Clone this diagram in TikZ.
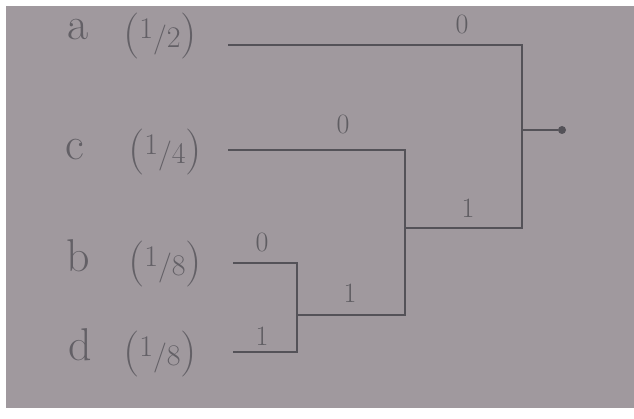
\documentclass[tikz,border=0pt]{standalone}
\usepackage{tikz}
\usetikzlibrary{positioning}
\definecolor{paper}{RGB}{160,153,158}
\definecolor{pencil}{RGB}{84,82,88}
\tikzset{
  branch/.style={
    line width=2.4pt,
    color=pencil
  },
  leaf name/.style={
    font=\fontsize{46}{50}\selectfont,
    color=pencil!80!paper,
    inner sep=0pt
  },
  bit label/.style={
    font=\fontsize{28}{30}\selectfont,
    color=pencil!85!paper,
    inner sep=0pt
  },
  root dot/.style={
    circle,
    fill=pencil,
    inner sep=0pt,
    minimum size=8pt
  }
}
\newcommand{\wt}[2]{({\fontsize{30}{32}\selectfont\raisebox{9pt}{#1}/#2})}

\begin{document}
\begin{tikzpicture}[x=1pt, y=-1pt]

  %% ---- paper ----
  \fill[white] (0,0) rectangle (634,419);
  \fill[paper] (6,6) rectangle (634,408);
  \useasboundingbox (0,0) rectangle (634,419);

  %% ---- leaves ----
  \node[leaf name] (na) at (78,30)  {a};
  \node[leaf name] (wa) at (160,36) {\wt{1}{2}};
  \node[leaf name] (nc) at (75,150) {c};
  \node[leaf name] (wc) at (165,152) {\wt{1}{4}};
  \node[leaf name] (nb) at (78,256) {b};
  \node[leaf name] (wb) at (165,264) {\wt{1}{8}};
  \node[leaf name] (nd) at (80,345) {d};
  \node[leaf name] (wd) at (160,354) {\wt{1}{8}};

  %% ---- branch ends ----
  \coordinate (a)  at (228,45);
  \coordinate (c)  at (228,150);
  \coordinate (b)  at (233,263);
  \coordinate (d)  at (233,352);
  \coordinate (bd) at (297,315);
  \coordinate (cbd) at (405,228);
  \coordinate (root) at (522,130);
  \node[root dot] (top) at (562,130) {};

  %% ---- merges ----
  % b + d
  \draw[branch] (b) -| (bd) |- (d);
  % c + (b,d)
  \draw[branch] (c) -| (cbd) |- (bd);
  % a + (c,b,d)
  \draw[branch] (a) -| (root) |- (cbd);
  % root stub
  \draw[branch, line width=1.4pt] (root) -- (top);

  %% ---- bits ----
  \node[bit label] at (462,24)  {0};
  \node[bit label] at (468,208) {1};
  \node[bit label] at (343,124) {0};
  \node[bit label] at (350,293) {1};
  \node[bit label] at (262,242) {0};
  \node[bit label] at (262,336) {1};

\end{tikzpicture}
\end{document}
